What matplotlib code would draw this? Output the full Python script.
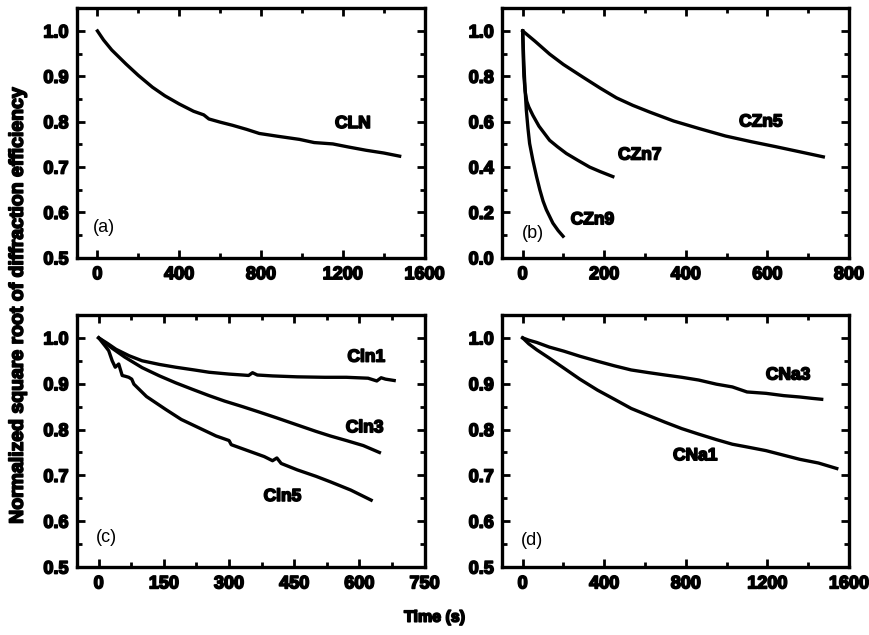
import matplotlib
matplotlib.use("Agg")
import matplotlib.pyplot as plt
import matplotlib.patheffects as pe
from matplotlib.ticker import MultipleLocator

plt.rcParams['font.family'] = ['Liberation Sans', 'DejaVu Sans']

# (a) CLN
t_cln = [0, 30, 70, 140, 200, 269, 330, 400, 470, 520, 545, 600, 661, 730, 792, 880, 988, 1060, 1151, 1230, 1314, 1400, 1478]
v_cln = [1.0, 0.98, 0.958, 0.927, 0.902, 0.876, 0.857, 0.839, 0.823, 0.815, 0.806, 0.799, 0.792, 0.783, 0.774, 0.768, 0.761, 0.754, 0.751, 0.744, 0.737, 0.731, 0.724]

# (b) CZn series
t_czn5 = [0, 30, 66, 100, 148, 190, 230, 270, 312, 370, 434, 497, 560, 620, 680, 737]
v_czn5 = [1.0, 0.955, 0.898, 0.852, 0.796, 0.748, 0.705, 0.672, 0.642, 0.603, 0.569, 0.537, 0.512, 0.490, 0.467, 0.445]
t_czn7 = [0, 1.5, 3, 6, 10, 15, 25, 40, 66, 85, 107, 135, 164, 190, 221]
v_czn7 = [1.0, 0.88, 0.80, 0.735, 0.69, 0.665, 0.628, 0.58, 0.518, 0.49, 0.46, 0.43, 0.40, 0.38, 0.358]
t_czn9 = [0, 3, 6, 9, 13, 17, 25, 34, 42, 50, 58, 74, 87, 99]
v_czn9 = [1.0, 0.85, 0.74, 0.65, 0.57, 0.504, 0.43, 0.358, 0.30, 0.25, 0.212, 0.153, 0.12, 0.095]

# (c) Cln series
t_cln1 = [0, 20, 40, 70, 100, 140, 177, 220, 254, 300, 331, 345, 354, 365, 400, 457, 520, 570, 620, 640, 650, 660, 680]
v_cln1 = [1.0, 0.988, 0.975, 0.961, 0.950, 0.942, 0.936, 0.930, 0.925, 0.921, 0.919, 0.918, 0.924, 0.919, 0.917, 0.915, 0.914, 0.914, 0.912, 0.906, 0.913, 0.910, 0.907]
t_cln3 = [0, 30, 60, 100, 140, 177, 215, 254, 290, 331, 370, 408, 457, 500, 533, 570, 609, 646]
v_cln3 = [1.0, 0.978, 0.958, 0.935, 0.917, 0.902, 0.888, 0.874, 0.862, 0.850, 0.838, 0.826, 0.810, 0.796, 0.786, 0.776, 0.765, 0.750]
t_cln5 = [0, 15, 23, 31, 38, 46, 54, 62, 69, 76, 81, 110, 154, 190, 230, 270, 300, 305, 340, 381, 400, 410, 420, 457, 500, 533, 580, 627]
v_cln5 = [1.0, 0.982, 0.972, 0.950, 0.936, 0.943, 0.918, 0.916, 0.914, 0.910, 0.899, 0.872, 0.844, 0.822, 0.804, 0.786, 0.776, 0.767, 0.755, 0.741, 0.732, 0.738, 0.726, 0.712, 0.698, 0.686, 0.668, 0.646]

# (d) CNa series
t_cna3 = [0, 30, 69, 130, 202, 280, 367, 450, 532, 620, 698, 780, 863, 950, 1028, 1100, 1193, 1280, 1359, 1420, 1466]
v_cna3 = [1.0, 0.995, 0.990, 0.980, 0.971, 0.960, 0.949, 0.939, 0.930, 0.924, 0.919, 0.914, 0.908, 0.899, 0.893, 0.882, 0.879, 0.874, 0.871, 0.868, 0.866]
t_cna1 = [0, 30, 69, 130, 202, 280, 367, 450, 532, 620, 698, 780, 863, 950, 1028, 1100, 1193, 1280, 1359, 1450, 1540]
v_cna1 = [1.0, 0.987, 0.974, 0.956, 0.934, 0.910, 0.886, 0.866, 0.846, 0.830, 0.816, 0.802, 0.790, 0.778, 0.768, 0.762, 0.754, 0.744, 0.735, 0.727, 0.715]

heavy = [pe.withStroke(linewidth=1.2, foreground='black')]

fig = plt.figure(figsize=(8.69, 6.35), dpi=100)
ax_a = fig.add_axes([0.0886, 0.594, 0.400, 0.393])
ax_b = fig.add_axes([0.578, 0.594, 0.399, 0.393])
ax_c = fig.add_axes([0.0886, 0.107, 0.400, 0.397])
ax_d = fig.add_axes([0.578, 0.107, 0.399, 0.397])

lw = 2.4
ax_a.plot(t_cln, v_cln, color='black', lw=lw)
ax_b.plot(t_czn5, v_czn5, color='black', lw=lw)
ax_b.plot(t_czn7, v_czn7, color='black', lw=lw)
ax_b.plot(t_czn9, v_czn9, color='black', lw=lw)
ax_c.plot(t_cln1, v_cln1, color='black', lw=lw)
ax_c.plot(t_cln3, v_cln3, color='black', lw=lw)
ax_c.plot(t_cln5, v_cln5, color='black', lw=lw)
ax_d.plot(t_cna3, v_cna3, color='black', lw=lw)
ax_d.plot(t_cna1, v_cna1, color='black', lw=lw)

settings = [
    (ax_a, (-100, 1600), 400, 200, (0.5, 1.05), 0.1, 0.05),
    (ax_b, (-50, 800), 200, 100, (0.0, 1.1), 0.2, 0.1),
    (ax_c, (-50, 750), 150, 75, (0.5, 1.05), 0.1, 0.05),
    (ax_d, (-100, 1600), 400, 200, (0.5, 1.05), 0.1, 0.05),
]
for ax, xl, xmaj, xmin, yl, ymaj, ymin in settings:
    ax.set_xlim(*xl)
    ax.set_ylim(*yl)
    ax.xaxis.set_major_locator(MultipleLocator(xmaj))
    ax.xaxis.set_minor_locator(MultipleLocator(xmin))
    ax.yaxis.set_major_locator(MultipleLocator(ymaj))
    ax.yaxis.set_minor_locator(MultipleLocator(ymin))
    ax.yaxis.set_major_formatter(plt.FormatStrFormatter('%.1f'))
    ax.tick_params(which='both', direction='in', top=True, right=True, width=2)
    ax.tick_params(which='major', length=6, labelsize=13, pad=6)
    ax.tick_params(which='minor', length=3.5)
    for s in ax.spines.values():
        s.set_linewidth(2.4)
    for lab in ax.get_xticklabels() + ax.get_yticklabels():
        lab.set_fontweight('bold')
        lab.set_path_effects(heavy)

bold = dict(fontsize=12.5, fontweight='bold', ha='center', va='center', path_effects=heavy)
ax_a.text(1249, 0.796, 'CLN', **bold)
ax_b.text(584, 0.599, 'CZn5', **bold)
ax_b.text(287, 0.453, 'CZn7', **bold)
ax_b.text(171, 0.168, 'CZn9', **bold)
ax_c.text(616, 0.958, 'Cln1', **bold)
ax_c.text(612, 0.804, 'Cln3', **bold)
ax_c.text(423, 0.654, 'Cln5', **bold)
ax_d.text(1301, 0.919, 'CNa3', **bold)
ax_d.text(846, 0.743, 'CNa1', **bold)

plain = dict(fontsize=13, ha='center', va='center')
ax_a.text(33, 0.566, '(a)', **plain)
ax_b.text(26, 0.109, '(b)', **plain)
ax_c.text(17, 0.565, '(c)', **plain)
ax_d.text(45, 0.559, '(d)', **plain)

fig.text(0.021, 0.52, 'Normalized square root of diffraction efficiency', rotation=90,
         fontsize=14, fontweight='bold', ha='center', va='center', path_effects=heavy)
fig.text(0.5, 0.028, 'Time (s)', fontsize=11.5, fontweight='bold', ha='center', va='center',
         path_effects=heavy)

fig.savefig('out.png', dpi=100)
